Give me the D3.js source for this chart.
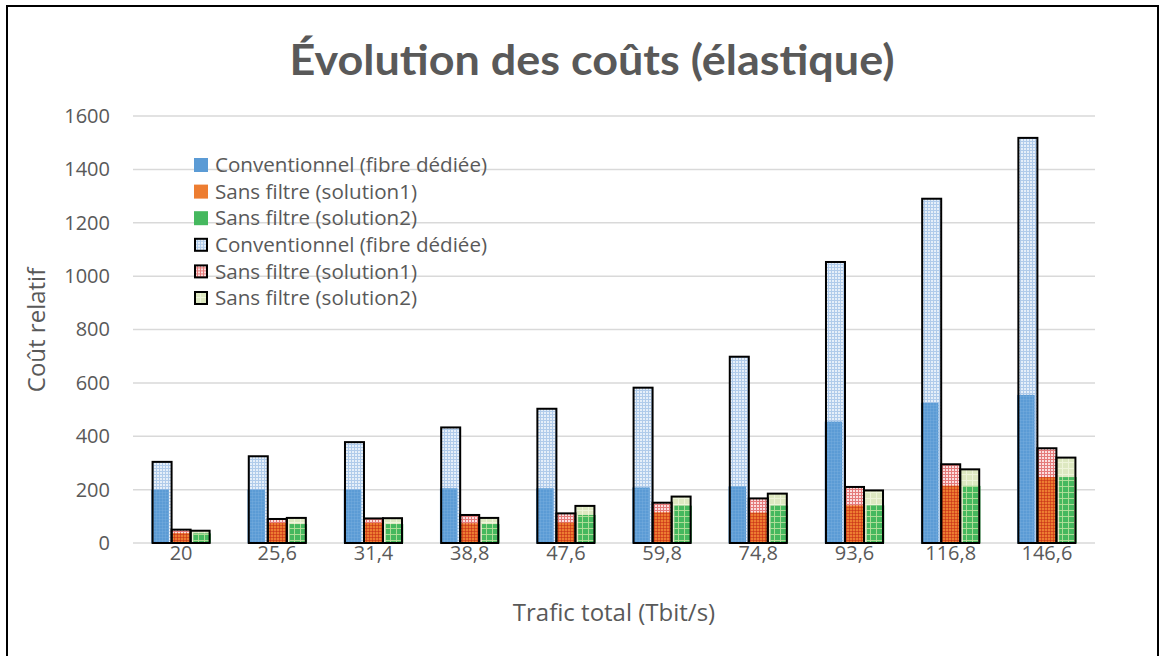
<!DOCTYPE html>
<html>
<head>
<meta charset="utf-8">
<script src="https://cdn.jsdelivr.net/npm/d3@7"></script>
<style>
  html, body { margin: 0; padding: 0; background: #fff; }
  svg { display: block; }
  text { font-family: "Open Sans", Lato, sans-serif; fill: #595959; }
</style>
</head>
<body>
<svg id="chart" width="1163" height="656"></svg>
<script>
// Trafic total (Tbit/s) categories
const categories = ["20", "25,6", "31,4", "38,8", "47,6", "59,8", "74,8", "93,6", "116,8", "146,6"];

// Solid series (primary axis)
const conventionnel = [200, 200, 200, 205, 205, 208, 212, 455, 525, 555];
const sansFiltre1   = [37, 75, 75, 74, 76, 115, 114, 141, 215, 247];
const sansFiltre2   = [36, 71, 71, 71, 105, 140, 140, 141, 214, 247];

// Patterned series (secondary axis, same scale)
const conventionnelTotal = [304, 325, 378, 433, 503, 582, 698, 1053, 1290, 1518];
const sansFiltre1Total   = [50, 90, 92, 105, 111, 151, 167, 210, 295, 355];
const sansFiltre2Total   = [46, 94, 93, 94, 139, 174, 185, 197, 276, 320];

const yTicks = [0, 200, 400, 600, 800, 1000, 1200, 1400, 1600];

const seriesNames = ["Conventionnel (fibre dédiée)", "Sans filtre (solution1)", "Sans filtre (solution2)"];
const solidSeries = [conventionnel, sansFiltre1, sansFiltre2];
const totalSeries = [conventionnelTotal, sansFiltre1Total, sansFiltre2Total];

const solidColors = ["#5B9BD5", "#ED7D31", "#45B85E"];

const svg = d3.select("#chart");

// ---- patterns ----
const defs = svg.append("defs");
function gridPattern(id, cell, bg, line, lineW, lineOpacity) {
  const p = defs.append("pattern")
    .attr("id", id).attr("patternUnits", "userSpaceOnUse")
    .attr("width", cell).attr("height", cell);
  if (bg) p.append("rect").attr("width", cell).attr("height", cell).attr("fill", bg);
  p.append("rect").attr("x", 0).attr("y", 0).attr("width", cell).attr("height", lineW)
    .attr("fill", line).attr("fill-opacity", lineOpacity);
  p.append("rect").attr("x", 0).attr("y", 0).attr("width", lineW).attr("height", cell)
    .attr("fill", line).attr("fill-opacity", lineOpacity);
}
// full patterns (background + lines)
gridPattern("pat0", 3, "#e6eff9", "#b0cbea", 1, 1);
gridPattern("pat1", 3, "#fbdede", "#e47a7a", 1, 1);
gridPattern("pat2", 6, "#dde8c1", "#eef4da", 1, 1);
// line-only overlays drawn over the solid bars
gridPattern("ovl0", 3, null, "#7fb0e0", 1, 0.35);
gridPattern("ovl1", 3, null, "#c42a14", 1, 0.55);
gridPattern("ovl2", 6, null, "#b6e09c", 1, 0.9);

// ---- layout ----
const plotLeft = 133, plotRight = 1095, plotTop = 116, plotBottom = 543;

const x = d3.scaleBand().domain(categories).range([plotLeft, plotRight]);
const bw = x.bandwidth();
const y = d3.scaleLinear().domain([0, 1600]).range([plotBottom, plotTop]);

// inner band scales for the two bar sets
const patGroup = bw * 0.593;
const xPat = d3.scaleBand().domain([0, 1, 2]).range([-patGroup / 2, patGroup / 2]);
const solidGroup = bw * 0.619;
const xSolid = d3.scaleBand().domain([0, 1, 2]).range([-solidGroup / 2, solidGroup / 2]).paddingInner(1 / 6);

// outer frame
svg.append("rect").attr("x", 7).attr("y", 6).attr("width", 1151).attr("height", 700)
  .attr("fill", "#fff").attr("stroke", "#000").attr("stroke-width", 2);

// title
svg.append("text")
  .attr("x", 592).attr("y", 75)
  .attr("text-anchor", "middle")
  .attr("font-size", 42).attr("font-weight", "bold")
  .style("font-family", "Lato, 'Open Sans', sans-serif")
  .attr("textLength", 605).attr("lengthAdjust", "spacingAndGlyphs")
  .text("Évolution des coûts (élastique)");

// gridlines
svg.append("g").selectAll("line").data(yTicks).join("line")
  .attr("x1", plotLeft).attr("x2", plotRight)
  .attr("y1", d => y(d)).attr("y2", d => y(d))
  .attr("stroke", "#d9d9d9").attr("stroke-width", 1.5);

// y axis labels
const yAxis = d3.axisLeft(y).tickValues(yTicks).tickSize(0).tickPadding(0).tickFormat(d3.format("d"));
const yg = svg.append("g").attr("transform", `translate(110,0)`).call(yAxis);
yg.select(".domain").remove();
yg.selectAll("text").attr("font-size", 20).attr("fill", "#595959")
  .style("font-family", "'Open Sans', Lato, sans-serif");

// x axis labels
const xAxis = d3.axisBottom(x).tickSize(0).tickPadding(0);
const xg = svg.append("g").attr("transform", `translate(0,${plotBottom + 3})`).call(xAxis);
xg.select(".domain").remove();
xg.selectAll("text").attr("font-size", 20).attr("fill", "#595959")
  .attr("dy", "0.7em")
  .style("font-family", "'Open Sans', Lato, sans-serif");

// axis titles
svg.append("text")
  .attr("transform", "translate(45,330) rotate(-90)")
  .attr("text-anchor", "middle").attr("font-size", 24)
  .text("Coût relatif");
svg.append("text")
  .attr("x", 614).attr("y", 621)
  .attr("text-anchor", "middle").attr("font-size", 24)
  .text("Trafic total (Tbit/s)");

// ---- bars ----
const bars = svg.append("g");
categories.forEach((cat, i) => {
  const c = x(cat) + bw / 2;
  for (let s = 0; s < 3; s++) {
    const px = c + xPat(s), pw = xPat.bandwidth();
    // patterned total bar
    bars.append("rect")
      .attr("x", px).attr("y", y(totalSeries[s][i]))
      .attr("width", pw).attr("height", plotBottom - y(totalSeries[s][i]))
      .attr("fill", `url(#pat${s})`);
  }
  for (let s = 0; s < 3; s++) {
    const sx = c + xSolid(s), sw = xSolid.bandwidth();
    const v = solidSeries[s][i];
    bars.append("rect")
      .attr("x", sx).attr("y", y(v))
      .attr("width", sw).attr("height", plotBottom - y(v))
      .attr("fill", solidColors[s]);
    // grid overlay where the patterned bar covers the solid one
    const px = c + xPat(s), pw = xPat.bandwidth();
    const ox0 = Math.max(sx, px), ox1 = Math.min(sx + sw, px + pw);
    const ov = Math.min(v, totalSeries[s][i]);
    bars.append("rect")
      .attr("x", ox0).attr("y", y(ov))
      .attr("width", Math.max(0, ox1 - ox0)).attr("height", plotBottom - y(ov))
      .attr("fill", `url(#ovl${s})`);
  }
  for (let s = 0; s < 3; s++) {
    const px = c + xPat(s), pw = xPat.bandwidth();
    bars.append("rect")
      .attr("x", px).attr("y", y(totalSeries[s][i]))
      .attr("width", pw).attr("height", plotBottom - y(totalSeries[s][i]))
      .attr("fill", "none").attr("stroke", "#000").attr("stroke-width", 2);
  }
});

// ---- legend ----
const legendItems = [
  ...seriesNames.map((n, s) => ({ name: n, fill: solidColors[s], stroke: null })),
  ...seriesNames.map((n, s) => ({ name: n, fill: `url(#pat${s})`, stroke: "#000" }))
];
const lg = svg.append("g").attr("transform", "translate(194,158)");
legendItems.forEach((d, k) => {
  const row = lg.append("g").attr("transform", `translate(0,${k * 26.6})`);
  row.append("rect")
    .attr("x", d.stroke ? 1 : 0).attr("y", d.stroke ? 1 : 0)
    .attr("width", d.stroke ? 12 : 14).attr("height", d.stroke ? 12 : 14)
    .attr("fill", d.fill)
    .attr("stroke", d.stroke || "none").attr("stroke-width", 2);
  row.append("text")
    .attr("x", 21).attr("y", 7).attr("dy", "0.35em")
    .attr("font-size", 20.6)
    .text(d.name);
});
</script>
</body>
</html>
